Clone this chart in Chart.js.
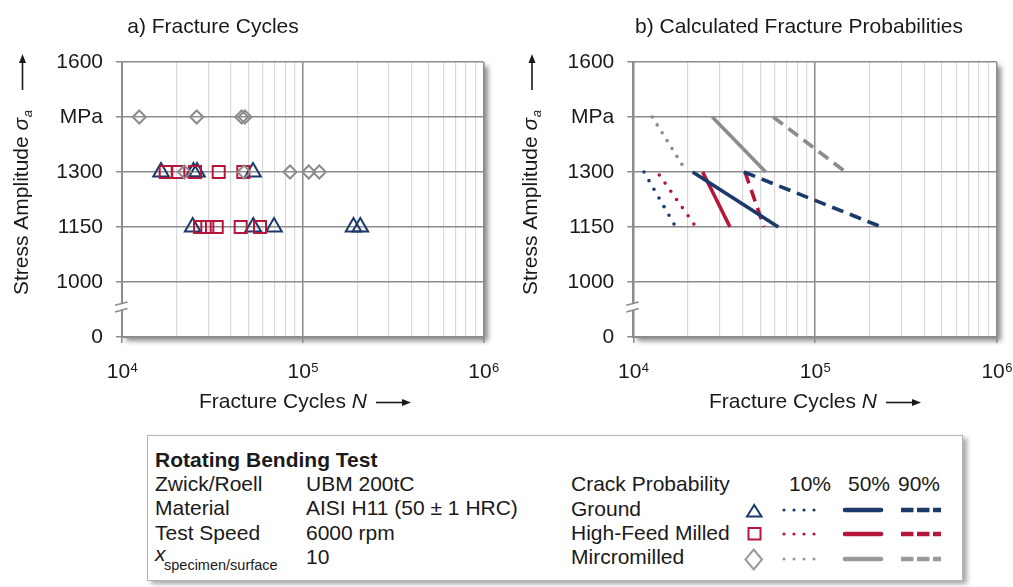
<!DOCTYPE html>
<html lang="en">
<head>
<meta charset="UTF-8">
<title>Rotating Bending Test</title>
<script src="https://cdn.jsdelivr.net/npm/chart.js"></script>
<style>
  body { margin: 0; background: #fff; font-family: "Liberation Sans", Arial, sans-serif; color: #1a1a1a; }
  #page { position: relative; width: 1013px; height: 587px; overflow: hidden; }
  .chartBox { position: absolute; top: 0; height: 425px; }
  #boxA { left: 0; width: 510px; }
  #boxB { left: 510px; width: 503px; }
  #legendBox { position: absolute; left: 147px; top: 435px; width: 816px; height: 146px; box-sizing: border-box;
               border: 1px solid #b4b4b4; background: #fff; box-shadow: 4px 3px 5px rgba(0,0,0,0.35); }
  .lg { position: absolute; font-size: 21px; line-height: 24px; white-space: nowrap; }
  .b { font-weight: bold; }
  .sub { font-size: 14.5px; line-height: 17px; }
  #legendArt { position: absolute; left: 0; top: 0; pointer-events: none; }
</style>
</head>
<body>
<div id="page">
    <div class="chartBox" id="boxA"><canvas id="fractureCycles"></canvas></div>
    <div class="chartBox" id="boxB"><canvas id="fractureProb"></canvas></div>

    <div id="legendBox"></div>
    <span class="lg b" style="left:155px;top:448px">Rotating Bending Test</span>
    <span class="lg" style="left:155px;top:472px">Zwick/Roell</span>
    <span class="lg" style="left:306px;top:472px">UBM 200tC</span>
    <span class="lg" style="left:155px;top:496px">Material</span>
    <span class="lg" style="left:306px;top:496px">AISI H11 (50 ± 1 HRC)</span>
    <span class="lg" style="left:155px;top:521px">Test Speed</span>
    <span class="lg" style="left:306px;top:521px">6000 rpm</span>
    <span class="lg" style="left:155px;top:542px"><i>x</i></span>
    <span class="lg sub" style="left:164px;top:557px">specimen/surface</span>
    <span class="lg" style="left:306px;top:545px">10</span>

    <span class="lg" style="left:571px;top:472px">Crack Probability</span>
    <span class="lg" style="left:789px;top:472px">10%</span>
    <span class="lg" style="left:848px;top:472px">50%</span>
    <span class="lg" style="left:898px;top:472px">90%</span>
    <span class="lg" style="left:571px;top:497px">Ground</span>
    <span class="lg" style="left:571px;top:521px">High-Feed Milled</span>
    <span class="lg" style="left:571px;top:545px">Mircromilled</span>

    <svg id="legendArt" width="1013" height="587">
        <g fill="none" stroke-width="2">
            <polygon points="754.2,505 747,516.5 761.5,516.5" stroke="#1b3a6a"/>
            <rect x="748.5" y="528" width="12" height="11.5" stroke="#b5163a"/>
            <polygon points="753.7,549.5 762,559.5 753.7,569.5 745.4,559.5" stroke="#9a9a9a"/>
        </g>
        <g stroke="#1b3a6a">
            <line x1="784" y1="510" x2="824" y2="510" stroke-width="3.2" stroke-dasharray="0 10" stroke-linecap="round"/>
            <line x1="845" y1="510" x2="881" y2="510" stroke-width="4.6" stroke-linecap="round"/>
            <line x1="901" y1="510" x2="941" y2="510" stroke-width="4.6" stroke-dasharray="12.5 3.5"/>
        </g>
        <g stroke="#b5163a">
            <line x1="784" y1="534" x2="824" y2="534" stroke-width="3.2" stroke-dasharray="0 10" stroke-linecap="round"/>
            <line x1="845" y1="534" x2="881" y2="534" stroke-width="4.6" stroke-linecap="round"/>
            <line x1="901" y1="534" x2="941" y2="534" stroke-width="4.6" stroke-dasharray="12.5 3.5"/>
        </g>
        <g stroke="#9a9a9a">
            <line x1="784" y1="559" x2="824" y2="559" stroke-width="3.2" stroke-dasharray="0 10" stroke-linecap="round"/>
            <line x1="845" y1="559" x2="881" y2="559" stroke-width="4.6" stroke-linecap="round"/>
            <line x1="901" y1="559" x2="941" y2="559" stroke-width="4.6" stroke-dasharray="12.5 3.5"/>
        </g>
    </svg>
</div>

<script>
    // y axis: 850 is the broken "0" row, 1450 is the row labelled "MPa"
    const yTickValues = [850, 1000, 1150, 1300, 1450, 1600];
    const yTickLabels = ['0', '1000', '1150', '1300', 'MPa', '1600'];

    // a) measured fracture cycles
    const groundN = [16440, 24860, 26000, 53050, 24610, 53250, 69340, 190900, 208200];
    const groundS = [1300, 1300, 1300, 1300, 1150, 1150, 1150, 1150, 1150];
    const millN = [17450, 20490, 25340, 34280, 46900, 27010, 29650, 33420, 45360, 58010];
    const millS = [1300, 1300, 1300, 1300, 1300, 1150, 1150, 1150, 1150, 1150];
    const microN = [12460, 25900, 45940, 47920, 22120, 47310, 85020, 107900, 123500];
    const microS = [1450, 1450, 1450, 1450, 1300, 1300, 1300, 1300, 1300];

    // b) calculated fracture probabilities, [start, end] cycles for 10% / 50% / 90%
    const probLevels = ['10%', '50%', '90%'];
    const groundProbN = [[11450, 17120], [21230, 62810], [40640, 232900]];
    const groundProbS = [[1300, 1150], [1300, 1150], [1300, 1150]];
    const millProbN = [[13900, 22140], [24090, 34050], [41190, 52400]];
    const millProbS = [[1292, 1150], [1300, 1150], [1300, 1150]];
    const microProbN = [[12720, 19670], [27220, 53550], [58950, 147500]];
    const microProbS = [[1450, 1300], [1450, 1300], [1450, 1300]];

    const FONT = '"Liberation Sans", Arial, sans-serif';
    const NAVY = '#1b3a6a', RED = '#b5163a', GREY = '#8c8c8c';
    Chart.defaults.font.family = FONT;
    Chart.defaults.color = '#1a1a1a';

    const xy = (ns, ss) => ns.map((n, i) => ({x: n, y: ss[i]}));
    const isDecade = v => Math.abs(Math.log10(v) - Math.round(Math.log10(v))) < 1e-6;
    const major = c => c.tick && isDecade(c.tick.value);
    // keep only 1..9 x 10^n (chart.js adds a 1.5 x 10^n step)
    const wholeStep = v => {
        const m = v / Math.pow(10, Math.floor(Math.log10(v) + 1e-9));
        return Math.abs(m - Math.round(m)) < 1e-6;
    };

    function makeScales(yWidth) {
        return {
            x: {
                type: 'logarithmic', min: 1e4, max: 1e6,
                ticks: {display: false, autoSkip: false},
                afterBuildTicks: s => { s.ticks = s.ticks.filter(t => wholeStep(t.value)); },
                grid: {
                    color: c => major(c) ? '#8c8c8c' : '#d9d9d9',
                    lineWidth: c => major(c) ? 1.5 : 1.2,
                    tickColor: c => major(c) ? '#8c8c8c' : 'rgba(0,0,0,0)',
                    tickLength: 6
                },
                border: {color: '#8c8c8c', width: 2},
                afterFit: s => { s.height = 88; }
            },
            y: {
                type: 'linear', min: 850, max: 1600,
                ticks: {
                    stepSize: 150, padding: 13,
                    font: {size: 21},
                    callback: v => yTickLabels[yTickValues.indexOf(v)]
                },
                grid: {color: '#8c8c8c', lineWidth: 1.5, tickLength: 6},
                border: {color: '#8c8c8c', width: 2},
                afterFit: s => { s.width = yWidth; }
            }
        };
    }

    function arrow(ctx, x1, y1, x2, y2) {
        const a = Math.atan2(y2 - y1, x2 - x1), L = 9, W = 3.5;
        ctx.beginPath();
        ctx.moveTo(x1, y1);
        ctx.lineTo(x2 - Math.cos(a) * L, y2 - Math.sin(a) * L);
        ctx.lineWidth = 1.6;
        ctx.strokeStyle = '#1a1a1a';
        ctx.stroke();
        ctx.beginPath();
        ctx.moveTo(x2, y2);
        ctx.lineTo(x2 - Math.cos(a) * L - Math.sin(a) * W, y2 - Math.sin(a) * L + Math.cos(a) * W);
        ctx.lineTo(x2 - Math.cos(a) * L + Math.sin(a) * W, y2 - Math.sin(a) * L - Math.cos(a) * W);
        ctx.closePath();
        ctx.fill();
    }

    function decor(title, titleX, xTitleX, yTitleX) {
        return {
            id: 'decor',
            beforeDraw(chart) {
                const {ctx, chartArea: a} = chart;
                ctx.save();
                ctx.shadowColor = 'rgba(0,0,0,0.45)';
                ctx.shadowBlur = 5;
                ctx.shadowOffsetX = 4;
                ctx.shadowOffsetY = 4;
                ctx.fillStyle = '#fff';
                ctx.fillRect(a.left, a.top, a.right - a.left, a.bottom - a.top);
                ctx.restore();
            },
            afterDraw(chart) {
                const {ctx, chartArea: a, scales: {x, y}} = chart;
                ctx.save();
                ctx.fillStyle = '#1a1a1a';
                ctx.textBaseline = 'alphabetic';

                ctx.font = '21px ' + FONT;
                ctx.textAlign = 'center';
                ctx.fillText(title, titleX, 33);
                ctx.textAlign = 'left';

                // decade labels 10^n
                x.ticks.forEach(t => {
                    if (!isDecade(t.value)) return;
                    const px = x.getPixelForValue(t.value);
                    const exp = String(Math.round(Math.log10(t.value)));
                    ctx.font = '21px ' + FONT;
                    const w1 = ctx.measureText('10').width;
                    ctx.font = '13px ' + FONT;
                    const w2 = ctx.measureText(exp).width;
                    const x0 = px - (w1 + w2) / 2;
                    ctx.font = '21px ' + FONT;
                    ctx.fillText('10', x0, 378);
                    ctx.font = '13px ' + FONT;
                    ctx.fillText(exp, x0 + w1 + 0.5, 372);
                });

                // x axis title
                ctx.font = '21px ' + FONT;
                const t1 = 'Fracture Cycles ';
                const w1 = ctx.measureText(t1).width;
                ctx.font = 'italic 21px ' + FONT;
                const wN = ctx.measureText('N').width;
                const total = w1 + wN + 9 + 35;
                let sx = xTitleX - total / 2;
                ctx.font = '21px ' + FONT;
                ctx.fillText(t1, sx, 408);
                ctx.font = 'italic 21px ' + FONT;
                ctx.fillText('N', sx + w1, 408);
                arrow(ctx, sx + w1 + wN + 9, 402.5, sx + total, 402.5);

                // y axis title (rotated)
                ctx.save();
                ctx.translate(yTitleX, 295);
                ctx.rotate(-Math.PI / 2);
                ctx.font = '21px ' + FONT;
                const s1 = 'Stress Amplitude ';
                ctx.fillText(s1, 0, 0);
                let w = ctx.measureText(s1).width;
                ctx.font = 'italic 21px ' + FONT;
                ctx.fillText('σ', w, 0);
                w += ctx.measureText('σ').width;
                ctx.font = 'italic 13px ' + FONT;
                ctx.fillText('a', w + 0.5, 4);
                ctx.restore();
                arrow(ctx, yTitleX - 5, 90, yTitleX - 5, 54);

                // axis break mark
                const L = a.left, yb = y.getPixelForValue(932);
                ctx.beginPath();
                ctx.moveTo(L - 7, yb - 1.7);
                ctx.lineTo(L + 5.5, yb - 5);
                ctx.lineTo(L + 5.5, yb + 1.6);
                ctx.lineTo(L - 7, yb + 5);
                ctx.closePath();
                ctx.fillStyle = '#fff';
                ctx.fill();
                ctx.beginPath();
                ctx.moveTo(L - 7, yb - 1.7);
                ctx.lineTo(L + 5.5, yb - 5);
                ctx.moveTo(L - 7, yb + 5);
                ctx.lineTo(L + 5.5, yb + 1.6);
                ctx.lineWidth = 1.5;
                ctx.strokeStyle = '#8c8c8c';
                ctx.stroke();
                ctx.restore();
            }
        };
    }

    function marker(label, ns, ss, style, r, color, order) {
        return {
            label: label, data: xy(ns, ss), order: order,
            pointStyle: style, pointRadius: r, pointHoverRadius: r,
            pointBorderWidth: 2, borderColor: color, backgroundColor: 'rgba(0,0,0,0)'
        };
    }

    new Chart(document.getElementById('fractureCycles'), {
        type: 'scatter',
        data: {
            datasets: [
                marker('Mircromilled', microN, microS, 'rectRot', 6.5, GREY, 0),
                marker('High-Feed Milled', millN, millS, 'rect', 8.5, RED, 1),
                marker('Ground', groundN, groundS, 'triangle', 9, NAVY, 2)
            ]
        },
        options: {
            responsive: true, maintainAspectRatio: false, animation: false,
            layout: {padding: {left: 0, top: 62, right: 26.5, bottom: 0}},
            plugins: {legend: {display: false}, tooltip: {enabled: false}},
            scales: makeScales(122)
        },
        plugins: [decor('a) Fracture Cycles', 213, 305, 27.5)]
    });

    const dashes = [[0, 10], [], [12, 7]];
    const caps = ['round', 'butt', 'butt'];
    function probLines(name, nss, sss, color) {
        return probLevels.map((p, i) => ({
            label: name + ' ' + p, data: xy(nss[i], sss[i]), showLine: true,
            pointRadius: 0, borderColor: color, borderWidth: 3.6,
            borderDash: dashes[i], borderCapStyle: caps[i]
        }));
    }
    const microLines = probLines('Mircromilled', microProbN, microProbS, GREY);
    microLines[0].borderDash = [0, 9.3];

    new Chart(document.getElementById('fractureProb'), {
        type: 'scatter',
        data: {
            datasets: [
                ...probLines('Ground', groundProbN, groundProbS, NAVY),
                ...probLines('High-Feed Milled', millProbN, millProbS, RED),
                ...microLines
            ]
        },
        options: {
            responsive: true, maintainAspectRatio: false, animation: false,
            layout: {padding: {left: 0, top: 62, right: 16.3, bottom: 0}},
            plugins: {legend: {display: false}, tooltip: {enabled: false}},
            scales: makeScales(123.3)
        },
        plugins: [decor('b) Calculated Fracture Probabilities', 289, 305, 27)]
    });
</script>
</body>
</html>
